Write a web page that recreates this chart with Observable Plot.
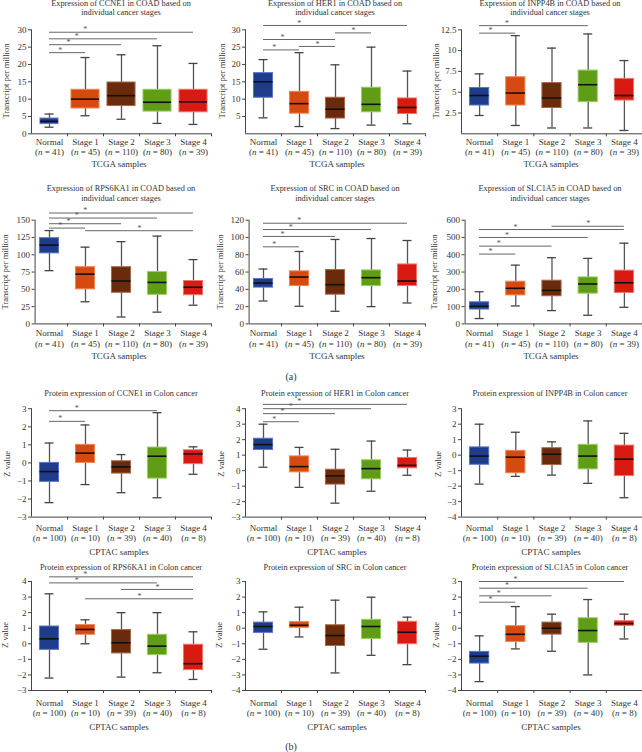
<!DOCTYPE html>
<html><head><meta charset="utf-8">
<script src="https://cdn.jsdelivr.net/npm/d3@7"></script>
<script src="https://cdn.jsdelivr.net/npm/@observablehq/plot@0.6"></script>
<style>
body{margin:0;background:#fff;}
#fig{position:relative;width:642px;height:752px;overflow:hidden;font-family:"Liberation Serif","Times New Roman",serif;color:#333;}
.t{position:absolute;white-space:nowrap;transform:translate(-50%,-50%);text-align:center;}
.ttl{font-size:8.3px;}
.ax{font-size:9px;}
.yl{font-size:8.6px;transform:translate(-50%,-50%) rotate(-90deg);}
.pl{position:absolute;}
.pl svg{overflow:visible;max-width:none;}
</style></head><body><div id="fig"></div>
<script>
// ---------- data ----------
const GROUPS = ["Normal", "Stage 1", "Stage 2", "Stage 3", "Stage 4"];
const N_TCGA = [41, 45, 110, 80, 39];
const N_CPTAC = [100, 10, 39, 40, 8];

// box statistics per group: [min, q1, median, q3, max]
const ccne1_tcga = [[1.9,2.8,3.6,4.4,5.7],[5.2,7.3,10.0,12.7,22.0],[4.2,8.0,11.0,14.8,22.8],[3.0,6.4,9.1,12.7,25.4],[2.7,6.2,9.2,12.7,20.3]];
const her1_tcga = [[4.6,10.4,15.0,17.5,21.4],[2.1,5.8,8.7,12.1,23.4],[1.5,4.4,7.1,10.4,19.9],[2.5,6.2,8.5,13.3,25.0],[2.9,5.7,7.6,10.2,18.1]];
const inpp4b_tcga = [[2.2,3.4,4.6,5.5,7.2],[1.0,3.4,4.9,6.8,11.8],[0.7,3.1,4.3,6.1,10.3],[0.7,3.8,5.9,7.6,12.0],[0.4,4.0,4.6,6.6,8.8]];
const rps6ka1_tcga = [[77,102,114,124,135],[32,50,72,82,111],[10,45,62,82,119],[17,42,60,75,127],[27,41.5,53,62,93]];
const src_tcga = [[26.5,42,47.3,52,63.5],[20.4,43.8,54.2,60.8,83.8],[14.6,33.8,45.4,62.3,97.7],[20,43.8,53.5,61.9,98.8],[24.2,43.8,49.6,68.8,96.5]];
const slc1a5_tcga = [[31,83,102,125,186],[104,165,206,244,340],[77,160,194,250,383],[50,175,231,269,379],[96,179,238,308,467]];

const ccne1_cptac = [[-2.2,-1.05,-0.48,0.0,1.1],[-1.2,0.0,0.54,1.0,2.1],[-1.65,-0.59,-0.22,0.09,0.46],[-1.93,-0.87,0.37,0.85,2.78],[-0.63,-0.07,0.5,0.7,0.89]];
const her1_cptac = [[0.22,1.33,1.68,2.06,3.0],[-1.08,-0.11,0.26,0.92,1.5],[-2.1,-0.9,-0.34,0.06,1.38],[-1.33,-0.56,0.13,0.67,1.91],[-0.3,0.15,0.34,0.82,1.33]];
const inpp4b_cptac = [[-1.87,-0.62,-0.06,0.5,2.0],[-1.37,-1.17,-0.13,0.28,1.48],[-1.29,-0.64,0.06,0.45,0.86],[-1.82,-0.92,-0.06,0.67,2.21],[-2.75,-1.35,-0.26,0.62,1.41]];
const rps6ka1_cptac = [[-2.2,-0.39,0.32,1.11,3.21],[0.0,0.58,0.92,1.2,1.54],[-2.14,-0.62,0.06,0.88,2.0],[-1.86,-0.73,-0.15,0.58,2.0],[-2.29,-1.69,-1.28,-0.06,0.77]];
const src_cptac = [[-1.35,-0.3,0.11,0.36,1.05],[-0.56,0.02,0.19,0.39,1.35],[-2.87,-1.14,-0.47,0.19,1.8],[-1.74,-0.69,0.11,0.54,1.99],[-2.34,-1.03,-0.26,0.41,0.71]];
const slc1a5_cptac = [[-3.43,-2.27,-1.8,-1.52,-0.49],[-1.33,-0.88,-0.39,0.13,1.39],[-1.48,-0.41,0.0,0.36,0.9],[-3.0,-0.94,-0.15,0.64,1.84],[-0.69,0.15,0.3,0.45,0.9]];

// significance brackets: [from group, to group, height]
const ccne1_tcga_sig = [[0,1,23.4],[0,2,25.7],[0,3,27.4],[0,4,29.3]];
const her1_tcga_sig = [[0,1,24.2],[1,2,25.2],[0,2,27.2],[2,3,29.1],[0,4,31.25]];
const inpp4b_tcga_sig = [[0,1,12.1],[0,3,13.0]];
const rps6ka1_tcga_sig = [[1,4,134.8],[0,1,138.6],[0,2,144.9],[0,3,153.1],[0,4,160.4]];
const src_tcga_sig = [[0,1,89.2],[0,2,101.2],[0,3,109.2],[0,4,116.5]];
const slc1a5_tcga_sig = [[0,1,404],[0,2,450],[0,3,500],[0,4,546],[2,4,565]];
const ccne1_cptac_sig = [[0,1,2.3],[0,3,2.89]];
const her1_cptac_sig = [[0,1,3.16],[0,2,3.68],[0,3,4.0],[0,4,4.28]];
const inpp4b_cptac_sig = [];
const rps6ka1_cptac_sig = [[1,4,2.89],[2,4,3.49],[0,3,3.91],[0,4,4.3]];
const src_cptac_sig = [];
const slc1a5_cptac_sig = [[0,1,1.67],[0,2,2.08],[0,3,2.57],[0,4,3.0]];

// y tick labels
const ticks_ccne1_tcga = [0,5,10,15,20,25,30];
const ticks_her1_tcga = [5,10,15,20,25,30];
const ticks_inpp4b_tcga = [2.5,5,7.5,10,12.5];
const ticks_rps6ka1_tcga = [0,25,50,75,100,125,150];
const ticks_src_tcga = [0,20,40,60,80,100,120];
const ticks_slc1a5_tcga = [0,100,200,300,400,500,600];
const ticks_z_3_3 = [-3,-2,-1,0,1,2,3];
const ticks_z_3_4 = [-3,-2,-1,0,1,2,3,4];
const ticks_z_4_3 = [-4,-3,-2,-1,0,1,2,3];

const GENES = ["CCNE1", "HER1", "INPP4B", "RPS6KA1", "SRC", "SLC1A5"];
const TITLES_TCGA = GENES.map(g => `Expression of ${g} in COAD based on<br>individual cancer stages`);
const TITLES_CPTAC = GENES.map(g => `Protein expression of ${g} in Colon cancer`);

// ---------- styles / layout ----------
const FILL = ["#1f3b8c", "#d64a12", "#6a2b0c", "#5f9d17", "#d91a13"];
const EDGE = ["#5876c4", "#f08450", "#a8674a", "#9ccd62", "#f07468"];
const ROWS = [
  {top: 14, h: 160, mT: 15.3, mB: 40.7, pad: 3.7, xStart: -0.5, titleY: 9, titleLH: 8.7, xlabY: 164, ylabY: 81, xlab: "TCGA samples", ylab: "Transcript per million"},
  {top: 200, h: 165, mT: 19.7, mB: 41.6, pad: 5, xStart: -0.4, titleY: 194, titleLH: 10, xlabY: 355.7, ylabY: 271.7, xlab: "TCGA samples", ylab: "Transcript per million"},
  {top: 385, h: 160, mT: 23.2, mB: 28.4, pad: 6.3, xStart: -0.5, titleY: 393.3, titleLH: 9, xlabY: 551.7, ylabY: 464, xlab: "CPTAC samples", ylab: "Z value"},
  {top: 560, h: 160, mT: 21, mB: 30, pad: 8, xStart: -0.5, titleY: 566.7, titleLH: 9, xlabY: 726.7, ylabY: 635, xlab: "CPTAC samples", ylab: "Z value"}
];
const COLS = [
  {left: 0, mL: 31, mR: 3, titleX: 121, xlabX: 119, ylabX: [6, 5, 7, 5]},
  {left: 214, mL: 31, mR: 3, titleX: 335, xlabX: 337, ylabX: [222, 220, 221, 219]},
  {left: 428, mL: 33, mR: 0, titleX: 550, xlabX: 551, ylabX: [436, 434, 438, 436]}
];

const PANELS = [
  {row: 0, col: 0, stats: ccne1_tcga, sig: ccne1_tcga_sig, ticks: ticks_ccne1_tcga, domain: [0, 30], ns: N_TCGA, title: TITLES_TCGA[0], boxW: [0.5, 0.78, 0.78, 0.78, 0.78]},
  {row: 0, col: 1, stats: her1_tcga, sig: her1_tcga_sig, ticks: ticks_her1_tcga, domain: [0, 30], ns: N_TCGA, title: TITLES_TCGA[1]},
  {row: 0, col: 2, stats: inpp4b_tcga, sig: inpp4b_tcga_sig, ticks: ticks_inpp4b_tcga, domain: [0, 12.5], ns: N_TCGA, title: TITLES_TCGA[2]},
  {row: 1, col: 0, stats: rps6ka1_tcga, sig: rps6ka1_tcga_sig, ticks: ticks_rps6ka1_tcga, domain: [0, 150], ns: N_TCGA, title: TITLES_TCGA[3]},
  {row: 1, col: 1, stats: src_tcga, sig: src_tcga_sig, ticks: ticks_src_tcga, domain: [0, 120], ns: N_TCGA, title: TITLES_TCGA[4]},
  {row: 1, col: 2, stats: slc1a5_tcga, sig: slc1a5_tcga_sig, ticks: ticks_slc1a5_tcga, domain: [0, 600], ns: N_TCGA, title: TITLES_TCGA[5]},
  {row: 2, col: 0, stats: ccne1_cptac, sig: ccne1_cptac_sig, ticks: ticks_z_3_3, domain: [-3, 3], ns: N_CPTAC, title: TITLES_CPTAC[0]},
  {row: 2, col: 1, stats: her1_cptac, sig: her1_cptac_sig, ticks: ticks_z_3_4, domain: [-3, 4], ns: N_CPTAC, title: TITLES_CPTAC[1]},
  {row: 2, col: 2, stats: inpp4b_cptac, sig: inpp4b_cptac_sig, ticks: ticks_z_4_3, domain: [-4, 3], ns: N_CPTAC, title: TITLES_CPTAC[2]},
  {row: 3, col: 0, stats: rps6ka1_cptac, sig: rps6ka1_cptac_sig, ticks: ticks_z_3_4, domain: [-3, 4], ns: N_CPTAC, title: TITLES_CPTAC[3]},
  {row: 3, col: 1, stats: src_cptac, sig: src_cptac_sig, ticks: ticks_z_4_3, domain: [-4, 3], ns: N_CPTAC, title: TITLES_CPTAC[4]},
  {row: 3, col: 2, stats: slc1a5_cptac, sig: slc1a5_cptac_sig, ticks: ticks_z_4_3, domain: [-4, 3], ns: N_CPTAC, title: TITLES_CPTAC[5]}
];

const fig = document.getElementById("fig");
const SVGNS = "http://www.w3.org/2000/svg";
const fmt = d => d < 0 ? "\u2212" + Math.abs(d) : String(d);

function addText(html, x, y, cls, extra) {
  const d = document.createElement("div");
  d.className = "t " + cls;
  d.innerHTML = html;
  d.style.left = x + "px";
  d.style.top = y + "px";
  if (extra) Object.assign(d.style, extra);
  fig.appendChild(d);
}

function italicN(svg) {
  svg.querySelectorAll("text, tspan").forEach(el => {
    if (el.children.length) return;
    const m = el.textContent.match(/^\(n = (\d+)\)$/);
    if (!m) return;
    el.textContent = "(";
    const it = document.createElementNS(SVGNS, "tspan");
    it.setAttribute("font-style", "italic");
    it.textContent = "n";
    el.appendChild(it);
    el.appendChild(document.createTextNode(" = " + m[1] + ")"));
  });
}

for (const p of PANELS) {
  const R = ROWS[p.row], C = COLS[p.col];
  const xStart = R.xStart;
  const mL = C.mL + (xStart + 0.5) * 36;
  const bw = p.boxW || [0.53, 0.53, 0.53, 0.53, 0.53];
  const rows = p.stats.map((s, i) => ({i, min: s[0], q1: s[1], med: s[2], q3: s[3], max: s[4], hw: bw[i] / 2, fill: FILL[i], edge: EDGE[i]}));
  const sig = p.sig.map(([from, to, y]) => ({from, to, y, sx: from === 0 ? 0.3 + 0.23 * (to - 1) : (from + to) / 2}));
  const [ymin, ymax] = p.domain;
  const ns = p.ns;

  const svg = Plot.plot({
    width: 214, height: R.h,
    marginLeft: mL, marginRight: C.mR, marginTop: R.mT, marginBottom: R.mB,
    style: {fontFamily: "'Liberation Serif', 'Times New Roman', serif", fontSize: "9px", color: "#333", background: "transparent", overflow: "visible", maxWidth: "none"},
    x: {type: "linear", domain: [xStart, 4.5], axis: null},
    y: {domain: p.domain, axis: null},
    color: {type: "identity"},
    marks: [
      // axes
      Plot.ruleY([ymin], {x1: () => xStart, x2: () => 4.5, stroke: "#444", strokeWidth: 1}),
      Plot.ruleX([xStart], {y1: () => ymin, y2: () => ymax, stroke: "#444", strokeWidth: 1}),
      Plot.axisY({ticks: p.ticks, tickSize: 3, tickPadding: 2, tickFormat: fmt, fontSize: 9, stroke: "#444"}),
      Plot.axisX({ticks: [0.5, 1.5, 2.5, 3.5, 4.5], tickSize: 3, tickFormat: () => "", stroke: "#444"}),
      Plot.axisX({ticks: [0, 1, 2, 3, 4], tickSize: 0, tickPadding: R.pad, fontSize: 9, lineHeight: 1.15,
        tickFormat: i => `${GROUPS[i]}\n(n = ${ns[i]})`}),
      // significance brackets
      Plot.ruleY(sig, {y: "y", x1: "from", x2: "to", stroke: "#666", strokeWidth: 1}),
      Plot.text(sig, {x: "sx", y: "y", text: () => "*", dy: -2.5, fontSize: 8, fill: "#555"}),
      // whiskers
      Plot.ruleX(rows, {x: "i", y1: "q3", y2: "max", stroke: "#555", strokeWidth: 1.3}),
      Plot.ruleX(rows, {x: "i", y1: "min", y2: "q1", stroke: "#555", strokeWidth: 1.3}),
      Plot.ruleY(rows, {y: "max", x1: d => d.i - 0.125, x2: d => d.i + 0.125, stroke: "#444", strokeWidth: 1.3}),
      Plot.ruleY(rows, {y: "min", x1: d => d.i - 0.125, x2: d => d.i + 0.125, stroke: "#444", strokeWidth: 1.3}),
      // boxes
      Plot.rect(rows, {x1: d => d.i - d.hw, x2: d => d.i + d.hw, y1: "q1", y2: "q3", fill: "fill", stroke: "edge", strokeWidth: 1}),
      // medians
      Plot.ruleY(rows, {y: "med", x1: d => d.i - d.hw, x2: d => d.i + d.hw, stroke: "#111", strokeWidth: 1.6})
    ]
  });
  italicN(svg);
  svg.style.width = "214px";
  svg.style.height = R.h + "px";
  const wrap = document.createElement("div");
  wrap.className = "pl";
  wrap.style.left = C.left + "px";
  wrap.style.top = R.top + "px";
  wrap.style.width = "214px";
  wrap.style.height = R.h + "px";
  wrap.appendChild(svg);
  fig.appendChild(wrap);

  addText(p.title, C.titleX, R.titleY, "ttl", {lineHeight: R.titleLH + "px"});
  addText(R.xlab, C.xlabX, R.xlabY, "ax");
  addText(R.ylab, C.ylabX[p.row], R.ylabY, "yl");
}

addText("(a)", 291, 376, "ax", {fontSize: "10px"});
addText("(b)", 291, 746, "ax", {fontSize: "10px"});
</script>
</body></html>
